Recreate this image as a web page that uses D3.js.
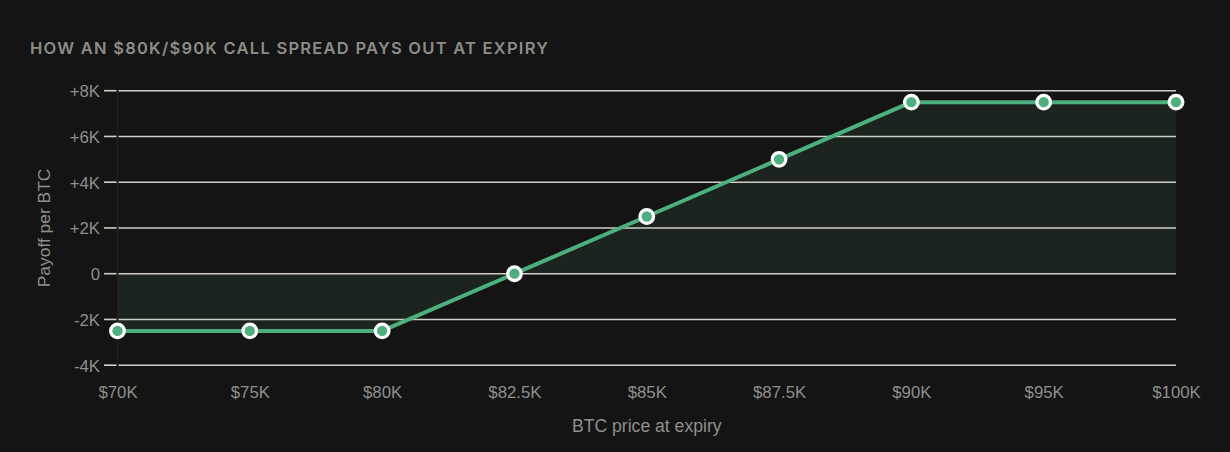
<!DOCTYPE html>
<html><head><meta charset="utf-8">
<script src="https://cdn.jsdelivr.net/npm/d3@7"></script>
<style>
html,body{margin:0;padding:0;background:#141414;}
svg{display:block;}
</style></head>
<body>
<svg id="c" width="1230" height="452"></svg>
<script>
const titleText = "HOW AN $80K/$90K CALL SPREAD PAYS OUT AT EXPIRY";
const categories = ["$70K","$75K","$80K","$82.5K","$85K","$87.5K","$90K","$95K","$100K"];
const payoff = [-2500,-2500,-2500,0,2500,5000,7500,7500,7500];
const yTicks = [-4000,-2000,0,2000,4000,6000,8000];
const yTickLabels = ["-4K","-2K","0","+2K","+4K","+6K","+8K"];
const xTitle = "BTC price at expiry";
const yTitle = "Payoff per BTC";

const svg = d3.select("#c");
const W = 1230, H = 452;
svg.append("rect").attr("width",W).attr("height",H).attr("fill","#141414");

const x = d3.scalePoint().domain(categories).range([117.5,1176]);
const y = d3.scaleLinear().domain([-4000,8000]).range([365.2,90.7]);
const green = "#4caf7d";
const axisFont = "'Liberation Sans', Arial, Helvetica, sans-serif";

// title
svg.append("text").attr("x",30).attr("y",53.5)
  .attr("font-family","Inter, 'Liberation Sans', sans-serif")
  .attr("font-weight",600).attr("font-size",16.5).attr("letter-spacing",1.25)
  .attr("fill","#8d8d88").text(titleText);

// fill area to zero
const data = categories.map((c,i)=>({c, v: payoff[i]}));
svg.append("path").datum(data)
  .attr("d", d3.area().x(d=>x(d.c)).y0(y(0)).y1(d=>y(d.v)))
  .attr("fill","#1c241f");

// y axis border
svg.append("line").attr("x1",117.5).attr("x2",117.5).attr("y1",y(8000)).attr("y2",y(-4000))
  .attr("stroke","#222222").attr("stroke-width",1);

// y axis with gridlines
const yAxis = d3.axisLeft(y).tickValues(yTicks)
  .tickFormat((d,i)=>yTickLabels[yTicks.indexOf(d)])
  .tickSize(0);
const gy = svg.append("g");
gy.selectAll("line.grid").data(yTicks).join("line").attr("class","grid")
  .attr("x1",118.5).attr("x2",1176).attr("y1",d=>y(d)).attr("y2",d=>y(d))
  .attr("stroke","#cfcfc8").attr("stroke-width",1.6);
gy.selectAll("line.tick").data(yTicks).join("line").attr("class","tick")
  .attr("x1",104).attr("x2",116.5).attr("y1",d=>y(d)).attr("y2",d=>y(d))
  .attr("stroke","#cfcfc8").attr("stroke-width",1.6);
const ga = svg.append("g").attr("transform","translate(100,0)").call(yAxis);
ga.select(".domain").remove();
ga.selectAll("text").attr("font-family",axisFont).attr("font-size",16.8)
  .attr("fill","#8f8f8c").attr("x",0).attr("dy","0.35em");

// x axis labels
const xAxis = d3.axisBottom(x).tickSize(0);
const gx = svg.append("g").attr("transform","translate(0,386)").call(xAxis);
gx.select(".domain").remove();
gx.selectAll("text").attr("font-family",axisFont).attr("font-size",16.8)
  .attr("fill","#8f8f8c").attr("y",0).attr("dy","0.71em");

// axis titles
svg.append("text").attr("x",(117.5+1176)/2).attr("y",432).attr("text-anchor","middle")
  .attr("font-family",axisFont).attr("font-size",17.6).attr("fill","#8f8f8c").text(xTitle);
svg.append("text").attr("transform",`translate(50,${(y(8000)+y(-4000))/2}) rotate(-90)`)
  .attr("text-anchor","middle")
  .attr("font-family",axisFont).attr("font-size",17.4).attr("fill","#8f8f8c").text(yTitle);

// line
svg.append("path").datum(data)
  .attr("d", d3.line().x(d=>x(d.c)).y(d=>y(d.v)))
  .attr("fill","none").attr("stroke",green).attr("stroke-width",4).attr("stroke-linejoin","round");

// points
svg.selectAll("circle.pt").data(data).join("circle").attr("class","pt")
  .attr("cx",d=>x(d.c)).attr("cy",d=>y(d.v)).attr("r",6.8)
  .attr("fill",green).attr("stroke","#ffffff").attr("stroke-width",3.3);
</script>
</body></html>
